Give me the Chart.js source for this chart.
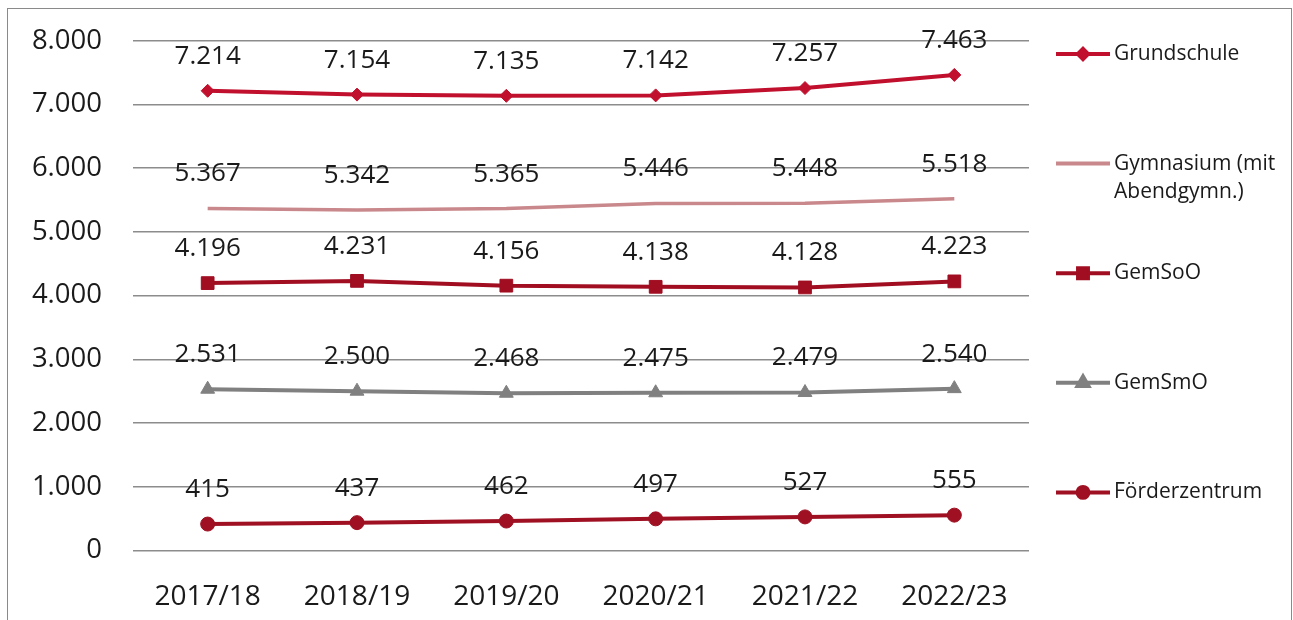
<!DOCTYPE html>
<html lang="de">
<head>
<meta charset="utf-8">
<title>Schülerzahlen nach Schulart</title>
<script src="https://cdn.jsdelivr.net/npm/chart.js@4.4.1/dist/chart.umd.min.js"></script>
<style>
    html, body { margin: 0; padding: 0; background: #fff; }
    #wrap { position: relative; width: 1293px; height: 620px; }
</style>
</head>
<body>
<div id="wrap"><canvas id="schulChart" width="1293" height="620"></canvas></div>
<script>
// Schuljahre
const years = ['2017/18', '2018/19', '2019/20', '2020/21', '2021/22', '2022/23'];

// Schülerzahlen je Schulart
const grundschule = [7214, 7154, 7135, 7142, 7257, 7463];
const gymnasium = [5367, 5342, 5365, 5446, 5448, 5518];
const gemSoO = [4196, 4231, 4156, 4138, 4128, 4223];
const gemSmO = [2531, 2500, 2468, 2475, 2479, 2540];
const foerderzentrum = [415, 437, 462, 497, 527, 555];

const seriesNames = ['Grundschule', 'Gymnasium (mit Abendgymn.)', 'GemSoO', 'GemSmO', 'Förderzentrum'];
const yTicks = [0, 1000, 2000, 3000, 4000, 5000, 6000, 7000, 8000];

const FONT = "'Open Sans', 'Noto Sans', sans-serif";
const fmt = v => v.toLocaleString('de-DE');

// Rahmen um das Diagramm
const framePlugin = {
    id: 'frame',
    beforeDraw(chart) {
        const ctx = chart.ctx;
        ctx.save();
        ctx.strokeStyle = '#8a8a8a';
        ctx.lineWidth = 1;
        ctx.strokeRect(7.5, 8.5, 1284, 640);
        ctx.restore();
    }
};

// Werte über den Punkten
const valueLabels = {
    id: 'valueLabels',
    afterDatasetsDraw(chart) {
        const ctx = chart.ctx;
        ctx.save();
        ctx.font = '26px ' + FONT;
        ctx.fillStyle = '#1a1a1a';
        ctx.textAlign = 'center';
        ctx.textBaseline = 'middle';
        chart.data.datasets.forEach((ds, i) => {
            const meta = chart.getDatasetMeta(i);
            meta.data.forEach((pt, j) => {
                ctx.fillText(fmt(ds.data[j]), pt.x, pt.y - 34.5);
            });
        });
        ctx.restore();
    }
};

// Legende rechts
const sideLegend = {
    id: 'sideLegend',
    afterDraw(chart) {
        const ctx = chart.ctx;
        ctx.save();
        ctx.font = '21px ' + FONT;
        ctx.textBaseline = 'middle';
        chart.data.datasets.forEach((ds, i) => {
            const y = 54 + i * 109.6;
            ctx.strokeStyle = ds.borderColor;
            ctx.lineWidth = 4;
            ctx.beginPath();
            ctx.moveTo(1056, y);
            ctx.lineTo(1110, y);
            ctx.stroke();
            if (ds.pointStyle && ds.pointRadius > 0) {
                Chart.helpers.drawPoint(ctx, {
                    pointStyle: ds.pointStyle,
                    radius: ds.pointRadius * 0.78,
                    borderWidth: 1,
                    rotation: 0
                }, 1083, y);
                ctx.fillStyle = ds.borderColor;
                ctx.fill();
            }
            // Zeilenumbruch
            const words = ds.label.split(' ');
            const lines = [];
            let line = '';
            words.forEach(w => {
                const test = line ? line + ' ' + w : w;
                if (ctx.measureText(test).width > 170 && line) {
                    lines.push(line);
                    line = w;
                } else {
                    line = test;
                }
            });
            lines.push(line);
            ctx.fillStyle = '#1a1a1a';
            lines.forEach((l, k) => ctx.fillText(l, 1114, y + k * 28));
        });
        ctx.restore();
    }
};

function series(label, data, color, style, radius, width) {
    return {
        label: label,
        data: data,
        borderColor: color,
        backgroundColor: color,
        pointBackgroundColor: color,
        pointBorderColor: color,
        borderWidth: width,
        pointStyle: style,
        pointRadius: radius,
        pointBorderWidth: 1,
        pointHoverRadius: radius,
        tension: 0,
        fill: false
    };
}

const ctx = document.getElementById('schulChart');
new Chart(ctx.getContext('2d'), {
    type: 'line',
    data: {
        labels: years,
        datasets: [
            series(seriesNames[0], grundschule, '#c0102e', 'rectRot', 6.5, 4),
            series(seriesNames[1], gymnasium, '#c9888b', false, 0, 3.5),
            series(seriesNames[2], gemSoO, '#a10e22', 'rect', 9, 4),
            series(seriesNames[3], gemSmO, '#808080', 'triangle', 8, 4),
            series(seriesNames[4], foerderzentrum, '#9e1022', 'circle', 7, 4)
        ]
    },
    options: {
        responsive: false,
        animation: false,
        layout: {
            padding: { left: 0, top: 40.7, right: 264, bottom: 0 }
        },
        plugins: {
            legend: { display: false },
            tooltip: { enabled: false }
        },
        scales: {
            x: {
                offset: true,
                grid: { display: false },
                border: { display: false },
                ticks: {
                    color: '#1a1a1a',
                    font: { family: FONT, size: 28 },
                    padding: 22,
                    maxRotation: 0
                },
                afterFit(scale) { scale.height = 69.5; }
            },
            y: {
                min: 0,
                max: 8000,
                afterBuildTicks(scale) {
                    scale.ticks = yTicks.map(v => ({ value: v }));
                },
                grid: {
                    color: '#8c8c8c',
                    lineWidth: 1.5,
                    drawTicks: false
                },
                border: { display: false },
                ticks: {
                    color: '#1a1a1a',
                    font: { family: FONT, size: 27.5 },
                    padding: 31,
                    callback: v => fmt(v)
                },
                afterFit(scale) {
                    scale.width = 133;
                    scale.paddingTop = 0;
                    scale.paddingBottom = 0;
                }
            }
        }
    },
    plugins: [framePlugin, valueLabels, sideLegend]
});
</script>
</body>
</html>
